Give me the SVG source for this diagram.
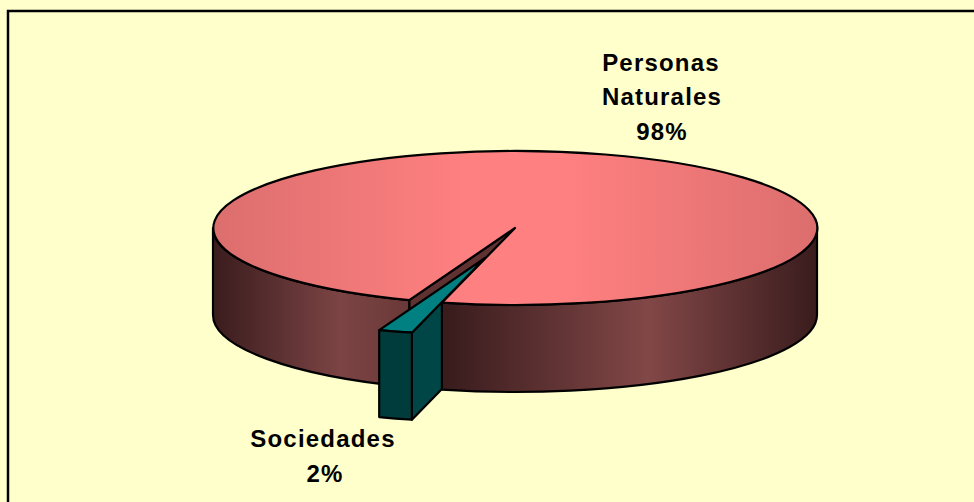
<svg xmlns="http://www.w3.org/2000/svg" width="974" height="502" viewBox="0 0 974 502">
  <defs>
    <linearGradient id="gTop" gradientUnits="userSpaceOnUse" x1="213" y1="0" x2="817" y2="0">
      <stop offset="0" stop-color="#DC6E6E"/>
      <stop offset="0.42" stop-color="#FF8080"/>
      <stop offset="0.58" stop-color="#FF8080"/>
      <stop offset="1" stop-color="#DC6E6E"/>
    </linearGradient>
    <linearGradient id="gSideL" gradientUnits="userSpaceOnUse" x1="213" y1="0" x2="409" y2="0">
      <stop offset="0" stop-color="#3A1C1D"/>
      <stop offset="0.65" stop-color="#7C4444"/>
      <stop offset="1" stop-color="#6A3838"/>
    </linearGradient>
    <linearGradient id="gSideR" gradientUnits="userSpaceOnUse" x1="442" y1="0" x2="817" y2="0">
      <stop offset="0" stop-color="#381B1C"/>
      <stop offset="0.55" stop-color="#824747"/>
      <stop offset="1" stop-color="#3A1C1D"/>
    </linearGradient>
  </defs>
  <style>
    .edge { stroke: #000; stroke-width: 2.2; stroke-linejoin: round; }
    .lbl { font-family: "Liberation Sans", Arial, sans-serif; font-weight: bold; font-size: 24px; letter-spacing: 1.2px; fill: #000; text-anchor: middle; }
  </style>
  <rect x="0" y="0" width="974" height="502" fill="#FFFFCC"/>
  <rect x="8" y="11" width="1000" height="600" fill="none" stroke="#000" stroke-width="2.5"/>

  <g id="slice-personas">
    <polygon class="edge" points="515,228 409.2,300.1 409.2,386.1 515,314" fill="#5F3131"/>
    <path class="edge" d="M213,228 L213,315 A302,77 0 0 0 409.2,387.1 L409.2,300.1 A302,77 0 0 1 213,228 Z" fill="url(#gSideL)"/>
    <path class="edge" d="M441.9,302.7 A302,77 0 0 0 817,228 L817,315 A302,77 0 0 1 441.9,389.7 Z" fill="url(#gSideR)"/>
    <path class="edge" d="M515,228 L409.2,300.1 A302,77 0 1 1 441.9,302.7 Z" fill="url(#gTop)"/>
  </g>

  <g id="slice-sociedades">
    <polygon class="edge" points="411.9,332.7 441.9,302 441.9,389 411.9,419.7" fill="#004646"/>
    <path class="edge" d="M485,258 L379.2,330.1 A302,77 0 0 0 411.9,332.7 Z" fill="#008080"/>
    <path class="edge" d="M379.2,330.1 A302,77 0 0 0 411.9,332.7 L411.9,419.7 A302,77 0 0 1 379.2,417.1 Z" fill="#003C3C"/>
  </g>

  <g id="label-personas">
    <text class="lbl" x="661" y="71">Personas</text>
    <text class="lbl" x="662" y="105">Naturales</text>
    <text class="lbl" x="662" y="140">98%</text>
  </g>
  <g id="label-sociedades">
    <text class="lbl" x="323" y="447">Sociedades</text>
    <text class="lbl" x="325" y="482">2%</text>
  </g>
</svg>
